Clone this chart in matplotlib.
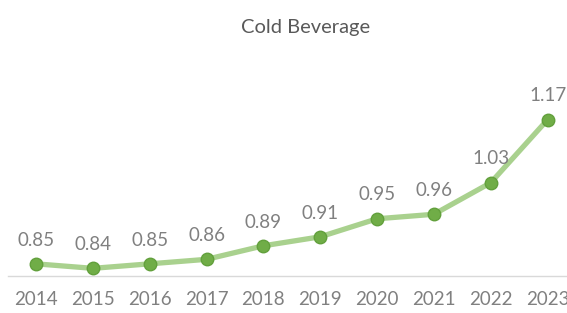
import matplotlib
matplotlib.use("Agg")
import matplotlib.pyplot as plt

years = ["2014", "2015", "2016", "2017", "2018", "2019", "2020", "2021", "2022", "2023"]
values = [0.85, 0.84, 0.85, 0.86, 0.89, 0.91, 0.95, 0.96, 1.03, 1.17]

plt.rcParams['font.family'] = ['Lato', 'DejaVu Sans']

fig = plt.figure(figsize=(5.67, 3.13), dpi=100)
ax = fig.add_axes([7.6 / 567, 37 / 313, 568.4 / 567, 196 / 313])

x = list(range(len(years)))
ax.plot(x, values, color='#a9d18e', linewidth=3.8, solid_capstyle='round', zorder=2)
ax.plot(x, values, linestyle='none', marker='o', markersize=9,
        markerfacecolor='#70ad47', markeredgecolor='#62a03c', markeredgewidth=1, zorder=3)

for xi, v in zip(x, values):
    ax.annotate(f"{v:.2f}", (xi, v), xytext=(0, 11), textcoords='offset points',
                ha='center', va='bottom', fontsize=13.5, color='#808080')

ax.set_xlim(-0.5, 9.5)
ax.set_ylim(0.823, 1.258)
ax.set_xticks(x)
ax.set_xticklabels(years, fontsize=13.5, color='#808080')
ax.tick_params(axis='x', length=0, pad=11)
ax.set_yticks([])
for s in ['top', 'right', 'left']:
    ax.spines[s].set_visible(False)
ax.spines['bottom'].set_color('#d9d9d9')
ax.spines['bottom'].set_linewidth(1)
ax.patch.set_alpha(0)

fig.text(306 / 567, 1 - 27 / 313, "Cold Beverage", ha='center', va='center', fontsize=14.5, color='#595959')

fig.savefig("out.png", dpi=100)
